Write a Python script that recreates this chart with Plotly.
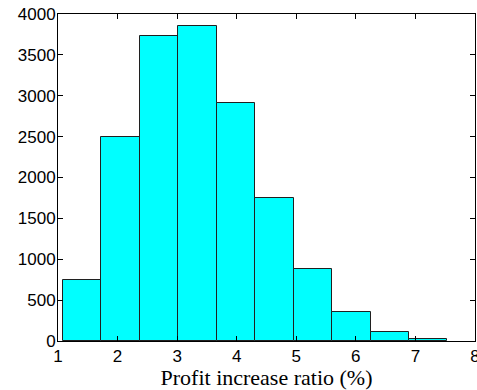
import plotly.graph_objects as go

bin_centers = [1.405, 2.05, 2.70, 3.345, 3.99, 4.635, 5.28, 5.925, 6.57, 7.215]
counts = [749, 2493, 3727, 3850, 2908, 1755, 875, 350, 105, 20]
bin_width = 0.645
x_ticks = [1, 2, 3, 4, 5, 6, 7, 8]
y_ticks = [0, 500, 1000, 1500, 2000, 2500, 3000, 3500, 4000]
x_label = "Profit increase ratio (%)"

fig = go.Figure(go.Bar(
    x=bin_centers, y=counts, width=bin_width,
    marker=dict(color="#00FFFF", line=dict(color="#202020", width=1)),
))

axis_common = dict(
    showline=True, linecolor="black", linewidth=1, mirror="allticks",
    ticks="inside", ticklen=5, tickcolor="black", showgrid=False, zeroline=False,
    tickfont=dict(family="Liberation Sans, Arial", size=17, color="black"),
    ticklabeloverflow="allow", automargin=False,
)
fig.update_xaxes(range=[1, 8.0001], tickvals=x_ticks, **axis_common,
                 title=dict(text=x_label, standoff=0,
                            font=dict(family="Liberation Serif, DejaVu Serif", size=22, color="black")))
fig.update_yaxes(range=[0, 4000], tickvals=y_ticks, ticklabelstandoff=-2, **axis_common)
fig.update_layout(
    width=477, height=390,
    margin=dict(l=58, r=2, t=14, b=49),
    plot_bgcolor="white", paper_bgcolor="white",
    bargap=0, showlegend=False,
)
fig.write_html("out.html")
